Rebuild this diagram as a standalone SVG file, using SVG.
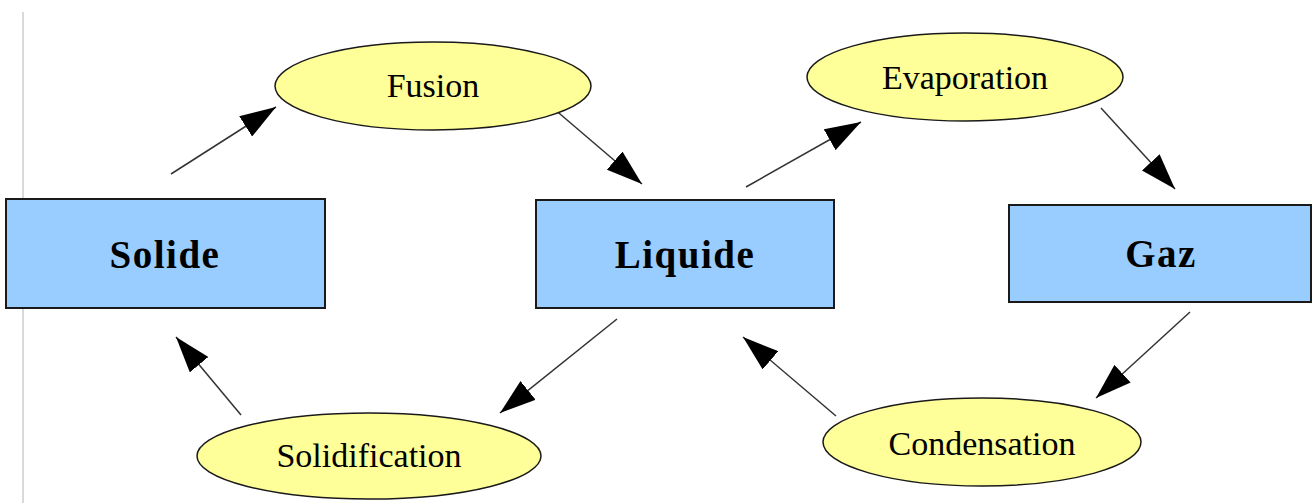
<svg xmlns="http://www.w3.org/2000/svg" width="1314" height="503" viewBox="0 0 1314 503">
<style>
.state{fill:#99ccff;stroke:#1a1a1a;stroke-width:2}
.proc{fill:#ffff99;stroke:#1a1a1a;stroke-width:1.5}
.bt{font-family:"Liberation Serif","Times New Roman",serif;font-weight:bold;font-size:39px;letter-spacing:1.5px;text-anchor:middle;fill:#000}
.rt{font-family:"Liberation Serif","Times New Roman",serif;font-size:34px;text-anchor:middle;fill:#000}
.edge{stroke:#333;stroke-width:1.5;fill:none;marker-end:url(#arr)}
</style>
<defs>
<marker id="arr" markerUnits="userSpaceOnUse" markerWidth="36" markerHeight="24" refX="36" refY="12" orient="auto" viewBox="0 0 36 24">
<path d="M0,0 L36,12 L0,24 z" fill="#000"/>
</marker>
</defs>
<rect width="1314" height="503" fill="#fff"/>
<line x1="23" y1="12" x2="23" y2="503" stroke="#cccccc" stroke-width="1.5"/>
<g id="connectors">
<line class="edge" x1="171" y1="174" x2="276" y2="107"/>
<line class="edge" x1="553" y1="108" x2="642" y2="184"/>
<line class="edge" x1="746" y1="187" x2="861" y2="122"/>
<line class="edge" x1="1101" y1="108" x2="1175" y2="189"/>
<line class="edge" x1="1190" y1="312" x2="1096" y2="398"/>
<line class="edge" x1="836" y1="416" x2="743" y2="337"/>
<line class="edge" x1="617" y1="319" x2="500" y2="413"/>
<line class="edge" x1="241" y1="415" x2="176" y2="337"/>
</g>
<g id="solide">
<rect class="state" x="6" y="199" width="319" height="109"/>
<text class="bt" x="165" y="268">Solide</text>
</g>
<g id="liquide">
<rect class="state" x="536" y="200" width="298" height="108"/>
<text class="bt" x="685" y="268">Liquide</text>
</g>
<g id="gaz">
<rect class="state" x="1009" y="205" width="302" height="97"/>
<text class="bt" x="1161" y="267">Gaz</text>
</g>
<g id="fusion">
<ellipse class="proc" cx="433" cy="86" rx="158" ry="44"/>
<text class="rt" x="433" y="97">Fusion</text>
</g>
<g id="evaporation">
<ellipse class="proc" cx="965" cy="77" rx="158" ry="44"/>
<text class="rt" x="965" y="89">Evaporation</text>
</g>
<g id="solidification">
<ellipse class="proc" cx="369" cy="456" rx="172" ry="43"/>
<text class="rt" x="369" y="467">Solidification</text>
</g>
<g id="condensation">
<ellipse class="proc" cx="982" cy="442" rx="159" ry="44"/>
<text class="rt" x="982" y="455">Condensation</text>
</g>
</svg>
